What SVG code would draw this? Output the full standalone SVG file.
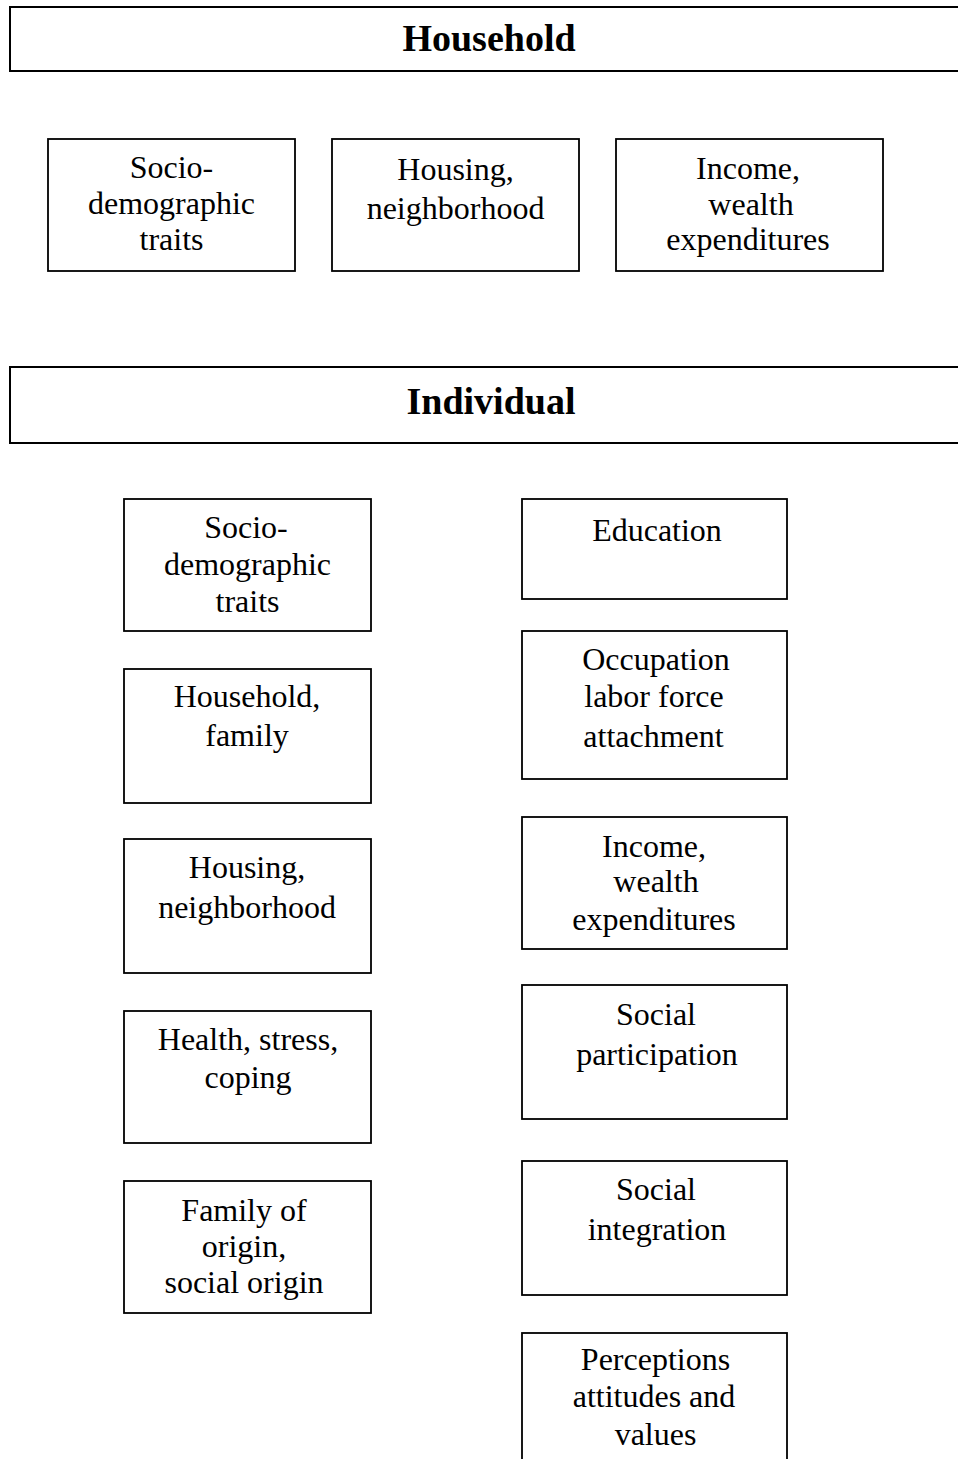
<svg xmlns="http://www.w3.org/2000/svg" width="958" height="1459" viewBox="0 0 958 1459">
  <style>
    .band { fill: #fff; stroke: #000; stroke-width: 2; }
    .box { fill: #fff; stroke: #000; stroke-width: 1.8; }
    .title { font-family: "Liberation Serif", "Times New Roman", serif; font-weight: bold; font-size: 38px; text-anchor: middle; fill: #000; }
    .lbl { font-family: "Liberation Serif", "Times New Roman", serif; font-size: 32px; text-anchor: middle; fill: #000; }
  </style>
  <rect width="958" height="1459" fill="#fff"/>

  <!-- Household level -->
  <g id="household">
    <rect class="band" x="10" y="7" width="960" height="64"/>
    <text class="title" x="489" y="51">Household</text>
  </g>
  <g id="hh-socio">
    <rect class="box" x="48" y="139" width="247" height="132"/>
    <text class="lbl" x="171.5" y="178">Socio-</text>
    <text class="lbl" x="171.5" y="214">demographic</text>
    <text class="lbl" x="171.5" y="250">traits</text>
  </g>
  <g id="hh-housing">
    <rect class="box" x="332" y="139" width="247" height="132"/>
    <text class="lbl" x="455.5" y="180">Housing,</text>
    <text class="lbl" x="455.5" y="219">neighborhood</text>
  </g>
  <g id="hh-income">
    <rect class="box" x="616" y="139" width="267" height="132"/>
    <text class="lbl" x="748" y="179">Income,</text>
    <text class="lbl" x="751" y="215">wealth</text>
    <text class="lbl" x="748" y="250">expenditures</text>
  </g>

  <!-- Individual level -->
  <g id="individual">
    <rect class="band" x="10" y="367" width="960" height="76"/>
    <text class="title" x="491" y="414">Individual</text>
  </g>

  <!-- left column -->
  <g id="ind-socio">
    <rect class="box" x="124" y="499" width="247" height="132"/>
    <text class="lbl" x="246" y="538">Socio-</text>
    <text class="lbl" x="247.5" y="575">demographic</text>
    <text class="lbl" x="247.5" y="612">traits</text>
  </g>
  <g id="ind-household">
    <rect class="box" x="124" y="669" width="247" height="134"/>
    <text class="lbl" x="247" y="707">Household,</text>
    <text class="lbl" x="247" y="746">family</text>
  </g>
  <g id="ind-housing">
    <rect class="box" x="124" y="839" width="247" height="134"/>
    <text class="lbl" x="247" y="878">Housing,</text>
    <text class="lbl" x="247" y="918">neighborhood</text>
  </g>
  <g id="ind-health">
    <rect class="box" x="124" y="1011" width="247" height="132"/>
    <text class="lbl" x="248" y="1050">Health, stress,</text>
    <text class="lbl" x="248" y="1088">coping</text>
  </g>
  <g id="ind-origin">
    <rect class="box" x="124" y="1181" width="247" height="132"/>
    <text class="lbl" x="244" y="1221">Family of</text>
    <text class="lbl" x="244" y="1257">origin,</text>
    <text class="lbl" x="244" y="1293">social origin</text>
  </g>

  <!-- right column -->
  <g id="ind-education">
    <rect class="box" x="522" y="499" width="265" height="100"/>
    <text class="lbl" x="657" y="541">Education</text>
  </g>
  <g id="ind-occupation">
    <rect class="box" x="522" y="631" width="265" height="148"/>
    <text class="lbl" x="656" y="670">Occupation</text>
    <text class="lbl" x="654" y="707">labor force</text>
    <text class="lbl" x="653.5" y="747">attachment</text>
  </g>
  <g id="ind-income">
    <rect class="box" x="522" y="817" width="265" height="132"/>
    <text class="lbl" x="654" y="857">Income,</text>
    <text class="lbl" x="656" y="892">wealth</text>
    <text class="lbl" x="654" y="930">expenditures</text>
  </g>
  <g id="ind-participation">
    <rect class="box" x="522" y="985" width="265" height="134"/>
    <text class="lbl" x="656" y="1025">Social</text>
    <text class="lbl" x="657" y="1065">participation</text>
  </g>
  <g id="ind-integration">
    <rect class="box" x="522" y="1161" width="265" height="134"/>
    <text class="lbl" x="656" y="1200">Social</text>
    <text class="lbl" x="657" y="1240">integration</text>
  </g>
  <g id="ind-perceptions">
    <rect class="box" x="522" y="1333" width="265" height="140"/>
    <text class="lbl" x="655.5" y="1370">Perceptions</text>
    <text class="lbl" x="654" y="1407">attitudes and</text>
    <text class="lbl" x="655.5" y="1445">values</text>
  </g>

  <!-- no connectors are drawn between the boxes -->
  <g id="connectors"/>
</svg>
